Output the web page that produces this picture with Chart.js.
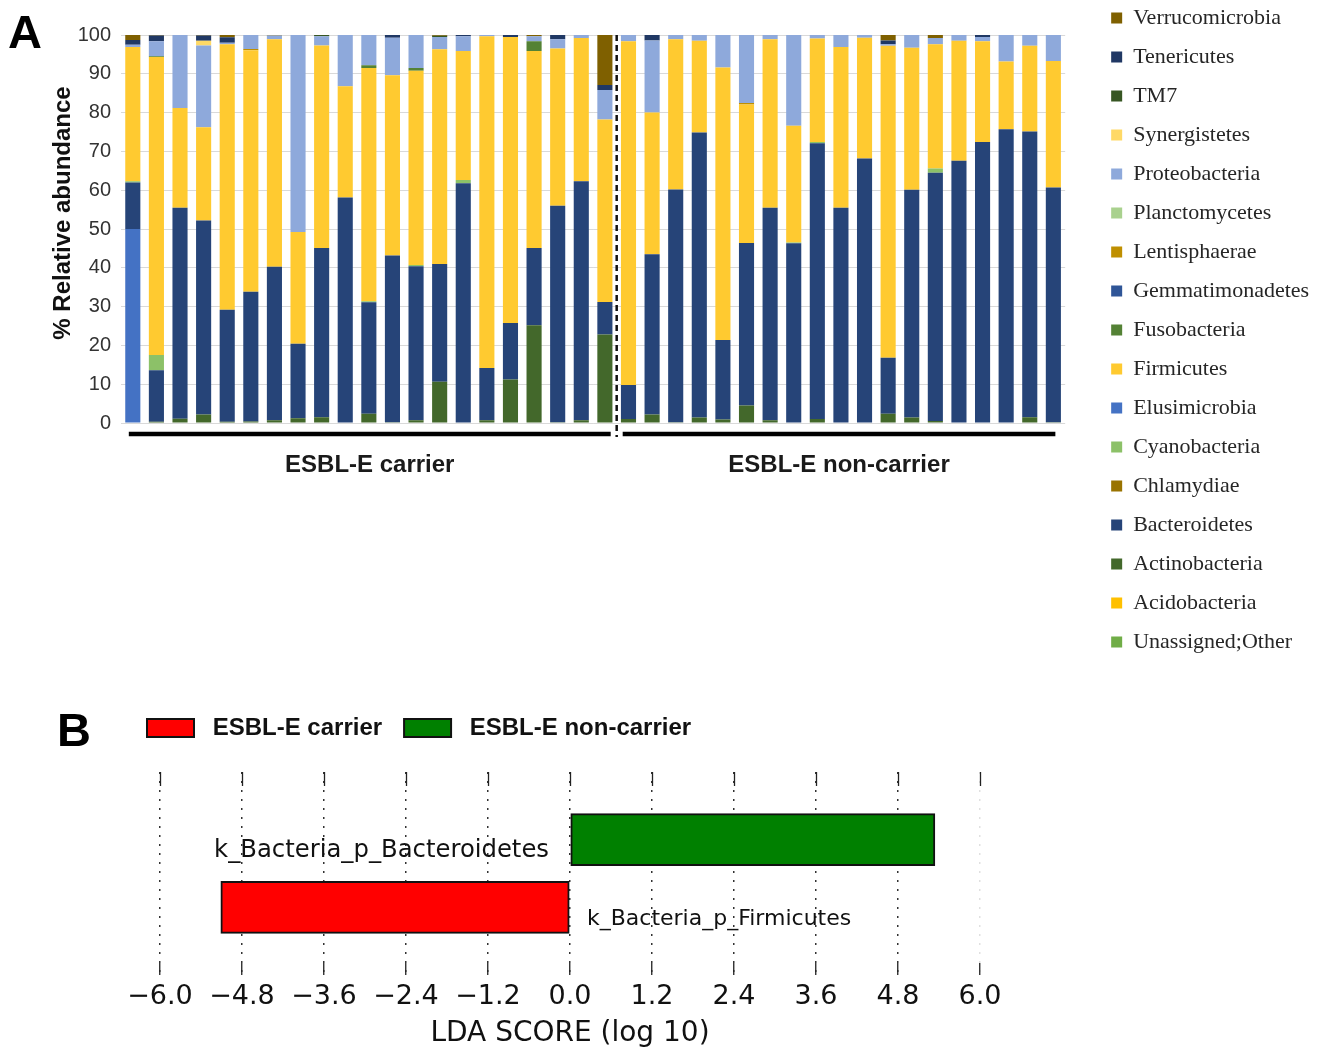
<!DOCTYPE html>
<html>
<head>
<meta charset="utf-8">
<script src="https://cdn.jsdelivr.net/npm/chart.js@4.4.1/dist/chart.umd.min.js"></script>
<style>
  html, body { margin: 0; padding: 0; background: #fff; }
  body { width: 1329px; height: 1051px; position: relative; overflow: hidden; font-family: 'Liberation Sans', Arial, sans-serif; }
  .painel { position: absolute; left: 0; width: 1329px; }
  #caixaA { top: -10px; height: 700px; }
  #caixaB { top: 690px; height: 361px; }
  .letra { position: absolute; font-weight: bold; font-size: 47px; line-height: 1; color: #000; }
</style>
</head>
<body>
<div class="painel" id="caixaA"><canvas id="graficoAbundancia"></canvas></div>
<div class="painel" id="caixaB"><canvas id="graficoLDA"></canvas></div>
<div class="letra" style="left:8px; top:8px;">A</div>
<div class="letra" style="left:57px; top:706px;">B</div>

<script>
// ---------- Painel A: abundancia relativa por amostra (%) ----------
// 21 portadores + 19 nao portadores
const amostras = [
  'C01','C02','C03','C04','C05','C06','C07','C08','C09','C10','C11','C12','C13','C14','C15','C16','C17','C18','C19','C20','C21',
  'N01','N02','N03','N04','N05','N06','N07','N08','N09','N10','N11','N12','N13','N14','N15','N16','N17','N18','N19'
];
const gruposAmostras = ['ESBL-E carrier', 'ESBL-E non-carrier'];
const tamanhoGrupos = [21, 19];
const ticksAbundancia = [0, 10, 20, 30, 40, 50, 60, 70, 80, 90, 100];

// valores (portadores | nao portadores)
const elusimicrobia = [50,0,0,0,0,0,0,0,0,0,0,0,0,0,0,0,0,0,0,0,0,
  0,0,0,0,0,0,0,0,0,0,0,0,0,0,0,0,0,0,0];
const unassigned = [0,0,0,0,0,0,0,0,0,0,0,0,0,0,0,0,0,0,0,0,0,
  0,0,0,0,0,0,0,0,0,0,0,0,0,0,0,0,0,0,0];
const acidobacteria = [0,0,0,0,0,0,0,0,0,0,0,0,0,0,0,0,0,0,0,0,0,
  0,0,0,0,0,0,0,0,0,0,0,0,0,0,0,0,0,0,0];
const actinobacteria = [0,0.3,1.1,2.2,0.3,0.4,0.7,1.2,1.5,0,2.4,0.2,0.7,10.6,0,0.7,11.2,25.2,0.2,0.7,22.8,
  1.0,2.2,0.2,1.4,0.9,4.5,0.7,0,1.0,0,0,2.4,1.4,0.5,0,0,0,1.5,0.2];
const bacteroidetes = [12.0,13.3,54.4,50.0,28.9,33.4,39.6,19.2,43.6,58.1,28.7,43.0,39.7,30.4,61.8,13.5,14.6,19.9,55.8,61.6,8.4,
  8.8,41.3,60.0,73.5,20.5,41.9,54.8,46.3,71.1,55.5,68.2,14.4,58.7,64.0,67.6,72.4,75.7,73.6,60.5];
const chlamydiae = [0,0,0,0,0,0,0,0,0,0,0,0,0,0,0,0,0,0,0,0,0,
  0,0,0,0,0,0,0,0,0,0,0,0,0,0,0,0,0,0,0];
const cyanobacteria = [0.3,3.9,0,0,0,0,0,0,0,0,0.3,0,0.3,0,0.8,0,0,0,0,0,0,
  0,0,0,0,0,0,0,0.2,0.3,0,0,0,0,1.1,0,0,0,0,0];
const firmicutes = [34.6,76.8,25.7,24.0,68.4,62.3,58.6,28.8,52.2,28.7,60.1,46.4,50.1,55.3,33.3,85.5,73.7,50.8,40.5,36.9,47.0,
  88.6,36.5,38.7,23.6,70.2,35.7,43.4,30.1,26.7,41.4,31.1,80.4,36.6,32.0,30.9,26.0,17.5,22.1,32.6];
const fusobacteria = [0,0.2,0,0,0,0,0,0,0,0,0.7,0,0.7,0,0,0,0,2.5,0,0,0,
  0,0,0,0,0,0,0,0,0,0,0,0,0,0,0,0,0,0,0];
const gemmatimonadetes = [0,0,0,0,0,0,0,0,0,0,0,0,0,0,0,0,0,0,0,0,0,
  0,0,0,0,0,0,0,0,0,0,0,0,0,0,0,0,0,0,0];
const lentisphaerae = [0,0,0,0,0,0.3,0,0,0,0,0,0,0,0,0,0,0,0,0,0,0,
  0,0,0,0,0,0.4,0,0,0,0,0,0,0,0,0,0,0,0,0];
const planctomycetes = [0,0,0,0,0,0,0,0,0,0,0,0,0,0,0,0,0,0,0,0,0,
  0,0,0,0,0,0,0,0,0,0,0,0,0,0,0,0,0,0,0];
const proteobacteria = [0.6,3.9,18.8,21.1,0.4,3.6,1.0,50.8,2.4,13.2,7.8,9.7,8.5,3.2,3.8,0.3,0,1.3,2.4,0.8,7.6,
  1.6,18.6,1.1,1.5,8.4,17.5,1.1,23.4,0.9,3.1,0.7,0.4,3.3,1.6,1.5,1.1,6.8,2.8,6.7];
const synergistetes = [0,0,0,1.2,0,0,0,0,0,0,0,0,0,0,0,0,0,0,0,0,0,
  0,0,0,0,0,0,0,0,0,0,0,0,0,0,0,0,0,0,0];
const tm7 = [0,0,0,0,0,0,0,0,0.3,0,0,0,0,0.3,0,0,0,0,0,0,0,
  0,0,0,0,0,0,0,0,0,0,0,0,0,0,0,0,0,0,0];
const tenericutes = [1.2,1.5,0,1.4,1.4,0,0,0,0,0,0,0.7,0,0,0.3,0,0.5,0,1.1,0,1.3,
  0,1.4,0,0,0,0,0,0,0,0,0,1.0,0,0,0,0.5,0,0,0];
const verrucomicrobia = [1.3,0.1,0,0.1,0.6,0,0.1,0,0,0,0,0,0,0.2,0,0,0,0.3,0,0,12.9,
  0,0,0,0,0,0,0,0,0,0,0,1.4,0,0.8,0,0,0,0,0];

// ordem de empilhamento (de baixo para cima)
const filos = [
  ['Elusimicrobia', elusimicrobia, '#4472C4'],
  ['Unassigned;Other', unassigned, '#70AD47'],
  ['Acidobacteria', acidobacteria, '#FFC000'],
  ['Actinobacteria', actinobacteria, '#43682B'],
  ['Bacteroidetes', bacteroidetes, '#264478'],
  ['Chlamydiae', chlamydiae, '#997300'],
  ['Cyanobacteria', cyanobacteria, '#8CC168'],
  ['Firmicutes', firmicutes, '#FFCA30'],
  ['Fusobacteria', fusobacteria, '#548235'],
  ['Gemmatimonadetes', gemmatimonadetes, '#2F5597'],
  ['Lentisphaerae', lentisphaerae, '#BF8F00'],
  ['Planctomycetes', planctomycetes, '#A9D18E'],
  ['Proteobacteria', proteobacteria, '#8EA9DB'],
  ['Synergistetes', synergistetes, '#FFD966'],
  ['TM7', tm7, '#375623'],
  ['Tenericutes', tenericutes, '#203864'],
  ['Verrucomicrobia', verrucomicrobia, '#7F6000']
];

// ordem da legenda como na figura
const ordemLegenda = ['Verrucomicrobia','Tenericutes','TM7','Synergistetes','Proteobacteria','Planctomycetes',
  'Lentisphaerae','Gemmatimonadetes','Fusobacteria','Firmicutes','Elusimicrobia','Cyanobacteria',
  'Chlamydiae','Bacteroidetes','Actinobacteria','Acidobacteria','Unassigned;Other'];

Chart.defaults.font.family = "'Liberation Sans', Arial, sans-serif";
Chart.defaults.animation = false;

// Linhas dos grupos, separador tracejado e titulo do eixo y
const pluginGrupos = {
    id: 'grupos',
    afterDraw(chart) {
        const ctx = chart.ctx;
        const x = chart.scales.x;
        const area = chart.chartArea;
        const ultimoPortador = tamanhoGrupos[0] - 1;
        const sep = (x.getPixelForValue(ultimoPortador) + x.getPixelForValue(ultimoPortador + 1)) / 2;

        ctx.save();
        // separador
        ctx.strokeStyle = '#111';
        ctx.lineWidth = 2.5;
        ctx.setLineDash([6, 4]);
        ctx.beginPath();
        ctx.moveTo(sep, area.top);
        ctx.lineTo(sep, area.bottom + 14);
        ctx.stroke();
        ctx.setLineDash([]);

        // barras dos grupos
        const yLinha = area.bottom + 11;
        const inicio = [x.getPixelForValue(0) - 4, sep + 6];
        const fim = [sep - 6, x.getPixelForValue(amostras.length - 1) + 2];
        ctx.lineWidth = 4.5;
        ctx.strokeStyle = '#000';
        ctx.font = "bold 24px 'Liberation Sans', Arial, sans-serif";
        ctx.fillStyle = '#1a1a1a';
        ctx.textAlign = 'center';
        ctx.textBaseline = 'middle';
        for (let g = 0; g < gruposAmostras.length; g++) {
            ctx.beginPath();
            ctx.moveTo(inicio[g], yLinha);
            ctx.lineTo(fim[g], yLinha);
            ctx.stroke();
            ctx.fillText(gruposAmostras[g], (inicio[g] + fim[g]) / 2, area.bottom + 42);
        }

        // titulo do eixo y
        ctx.translate(63, area.top + 178);
        ctx.rotate(-Math.PI / 2);
        ctx.fillStyle = '#111';
        ctx.fillText('% Relative abundance', 0, 0);
        ctx.restore();
    }
};

const ctxAbund = document.getElementById('graficoAbundancia').getContext('2d');
const graficoAbundancia = new Chart(ctxAbund, {
    type: 'bar',
    data: {
        labels: amostras,
        datasets: filos.map(f => ({
            label: f[0],
            data: f[1],
            backgroundColor: f[2],
            borderWidth: 0,
            barPercentage: 0.64,
            categoryPercentage: 1.0
        }))
    },
    options: {
        responsive: true,
        maintainAspectRatio: false,
        layout: { padding: { left: 0, right: 16, top: 0, bottom: 0 } },
        scales: {
            x: {
                stacked: true,
                grid: { display: false },
                border: { display: false },
                ticks: { display: false },
                afterFit: s => { s.height = 267; }
            },
            xTopo: {
                type: 'category',
                axis: 'x',
                position: 'top',
                grid: { display: false },
                border: { display: false },
                ticks: { display: false },
                afterFit: s => { s.height = 45; }
            },
            y: {
                stacked: true,
                min: 0,
                max: 100,
                afterBuildTicks: s => { s.ticks = ticksAbundancia.map(v => ({ value: v })); },
                grid: { color: '#d9d9d9', lineWidth: 1, drawTicks: false },
                border: { display: false },
                ticks: { color: '#333', font: { size: 20 }, padding: 10 },
                afterFit: s => { s.width = 121; }
            },
            yDireita: {
                type: 'linear',
                axis: 'y',
                position: 'right',
                grid: { display: false },
                border: { display: false },
                ticks: { display: false },
                afterFit: s => { s.width = 29; }
            }
        },
        plugins: {
            legend: {
                position: 'right',
                align: 'start',
                labels: {
                    font: { family: "'Liberation Serif', 'Times New Roman', serif", size: 22 },
                    color: '#262626',
                    boxWidth: 11,
                    boxHeight: 11,
                    padding: 17,
                    sort: (a, b) => ordemLegenda.indexOf(a.text) - ordemLegenda.indexOf(b.text)
                }
            },
            tooltip: { enabled: false }
        }
    },
    plugins: [pluginGrupos]
});

// ---------- Painel B: LDA (LEfSe) ----------
const categoriasLDA = ['', 'k_Bacteria_p_Bacteroidetes', 'k_Bacteria_p_Firmicutes', ''];
const ldaPortador = [null, null, -5.11, null];
const ldaNaoPortador = [null, 5.34, null, null];
const ticksLDA = [-6.0, -4.8, -3.6, -2.4, -1.2, 0.0, 1.2, 2.4, 3.6, 4.8, 6.0];
const tamanhoRotuloLDA = [0, 24.3, 22, 0];

const fonteLEfSe = "'DejaVu Sans', 'Liberation Sans', sans-serif";

// nomes dos taxons ao lado das barras
const pluginRotulos = {
    id: 'rotulos',
    afterDatasetsDraw(chart) {
        const ctx = chart.ctx;
        const x = chart.scales.x;
        const y = chart.scales.y;
        const zero = x.getPixelForValue(0);
        ctx.save();
        ctx.fillStyle = '#111';
        ctx.textBaseline = 'alphabetic';
        chart.data.datasets.forEach(ds => {
            ds.data.forEach((v, j) => {
                if (v === null) return;
                ctx.font = tamanhoRotuloLDA[j] + 'px ' + fonteLEfSe;
                const py = y.getPixelForValue(j) + 17.5;
                if (v > 0) {
                    ctx.textAlign = 'right';
                    ctx.fillText(categoriasLDA[j], zero - 21, py);
                } else {
                    ctx.textAlign = 'left';
                    ctx.fillText(categoriasLDA[j], zero + 17, py);
                }
            });
        });
        ctx.restore();
    }
};

const formatoLDA = v => (v < 0 ? '\u2212' : '') + Math.abs(v).toFixed(1);

const ctxLDA = document.getElementById('graficoLDA').getContext('2d');
const graficoLDA = new Chart(ctxLDA, {
    type: 'bar',
    data: {
        labels: categoriasLDA,
        datasets: [
            {
                label: 'ESBL-E carrier',
                data: ldaPortador,
                backgroundColor: '#ff0000',
                borderColor: '#111',
                borderWidth: 2,
                borderSkipped: false,
                barThickness: 52,
                grouped: false
            },
            {
                label: 'ESBL-E non-carrier',
                data: ldaNaoPortador,
                backgroundColor: '#008000',
                borderColor: '#111',
                borderWidth: 2,
                borderSkipped: false,
                barThickness: 52,
                grouped: false
            }
        ]
    },
    options: {
        indexAxis: 'y',
        responsive: true,
        maintainAspectRatio: false,
        layout: { padding: { left: 125, right: 349, top: 4, bottom: 0 } },
        scales: {
            x: {
                type: 'linear',
                min: -6,
                max: 6,
                afterBuildTicks: s => { s.ticks = ticksLDA.map(v => ({ value: v })); },
                grid: {
                    color: c => (c.tick && c.tick.value === 6 ? 'rgba(0,0,0,0.12)' : '#333'),
                    lineWidth: 1.5,
                    tickLength: -12,
                    tickColor: '#222',
                    tickWidth: 1.3
                },
                border: { display: false, dash: [2, 7] },
                ticks: {
                    color: '#111',
                    font: { family: fonteLEfSe, size: 27 },
                    padding: 18,
                    maxRotation: 0,
                    callback: formatoLDA
                },
                title: {
                    display: true,
                    text: 'LDA SCORE (log 10)',
                    color: '#111',
                    font: { family: fonteLEfSe, size: 28 },
                    padding: { top: 0, bottom: 0 }
                },
                afterFit: s => { s.height = 76; }
            },
            xTopo: {
                type: 'linear',
                axis: 'x',
                position: 'top',
                min: -6,
                max: 6,
                afterBuildTicks: s => { s.ticks = ticksLDA.map(v => ({ value: v })); },
                grid: { drawOnChartArea: false, tickLength: -14, tickColor: '#222', tickWidth: 1.3 },
                border: { display: false },
                ticks: { display: false },
                afterFit: s => { s.height = 22; }
            },
            y: {
                type: 'category',
                offset: false,
                grid: { display: false },
                border: { display: false },
                ticks: { display: false },
                afterFit: s => { s.width = 35; }
            }
        },
        plugins: {
            legend: {
                position: 'top',
                align: 'start',
                labels: {
                    font: { size: 24, weight: 'bold' },
                    color: '#111',
                    boxWidth: 47,
                    boxHeight: 18,
                    padding: 22,
                    // pequeno espaco extra entre a caixa e o texto
                    generateLabels: chart => Chart.defaults.plugins.legend.labels.generateLabels(chart)
                        .map(item => Object.assign(item, { text: ' ' + item.text }))
                }
            },
            tooltip: { enabled: false }
        }
    },
    plugins: [pluginRotulos]
});
</script>
</body>
</html>
